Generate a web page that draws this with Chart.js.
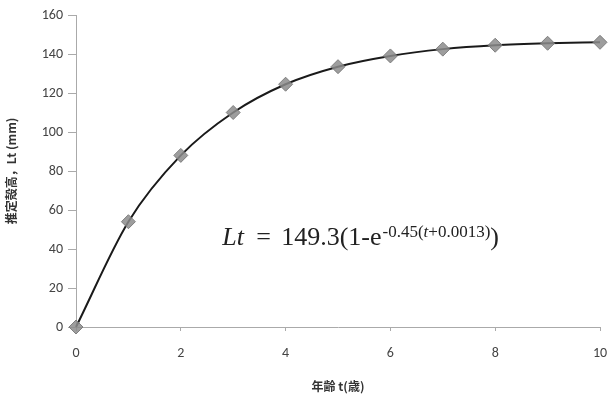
<!DOCTYPE html>
<html>
<head>
<meta charset="utf-8">
<script src="https://cdn.jsdelivr.net/npm/chart.js@4/dist/chart.umd.min.js"></script>
<style>
  html, body { margin: 0; padding: 0; background: #fff; }
  #wrap { width: 608px; height: 399px; }
</style>
</head>
<body>
<div id="wrap"><canvas id="grafico"></canvas></div>
<script>
// 年齢 (t) と 推定殻高 Lt (mm) — 図から読み取った値
const ages = [0, 1, 2, 3, 4, 5, 6, 7, 8, 9, 10];
const shellHeight = [0, 54, 88, 110, 124.5, 133.5, 139, 142.5, 144.5, 145.5, 146];
const xTicks = [0, 2, 4, 6, 8, 10];
const yTicks = [0, 20, 40, 60, 80, 100, 120, 140, 160];

const tickFont = { family: 'Calibri, Carlito, "Open Sans", sans-serif', size: 14 };
const titleFont = { family: '"Noto Sans CJK JP", sans-serif', size: 12, weight: 'bold' };

// 式の注記
const formulaPlugin = {
    id: 'formula',
    afterDraw(chart) {
        const c = chart.ctx;
        const x0 = chart.scales.x.getPixelForValue(2.79);
        const yb = chart.scales.y.getPixelForValue(42);
        const big = '26px "Liberation Serif", serif';
        const small = '17px "Liberation Serif", serif';
        c.save();
        c.fillStyle = '#222';
        c.textBaseline = 'alphabetic';
        c.textAlign = 'left';
        let x = x0;
        const put = (txt, font, y) => {
            c.font = font;
            c.fillText(txt, x, y);
            x += c.measureText(txt).width;
        };
        const sup = yb - 8;
        put('Lt', 'italic ' + big, yb);
        x = x0 + 34;
        put('=', big, yb);
        x = x0 + 59;
        put('149.3(1-e', big, yb);
        x += 1;
        put('-0.45(', small, sup);
        put('t', 'italic ' + small, sup);
        put('+0.0013)', small, sup);
        put(')', big, yb);
        c.restore();
    }
};

new Chart(document.getElementById('grafico'), {
    type: 'line',
    data: {
        labels: ages,
        datasets: [{
            data: ages.map((t, i) => ({ x: t, y: shellHeight[i] })),
            borderColor: '#1a1a1a',
            borderWidth: 2,
            cubicInterpolationMode: 'monotone',
            pointStyle: 'rectRot',
            pointRadius: 7,
            pointBackgroundColor: 'rgba(140,140,140,0.85)',
            pointBorderColor: 'rgba(120,120,120,0.9)',
            pointBorderWidth: 1,
            clip: false
        }]
    },
    options: {
        responsive: true,
        maintainAspectRatio: false,
        animation: false,
        layout: { padding: { top: 15, right: 8, bottom: 2, left: 0 } },
        plugins: { legend: { display: false }, tooltip: { enabled: false } },
        scales: {
            x: {
                type: 'linear',
                min: 0, max: 10,
                afterBuildTicks: s => { s.ticks = xTicks.map(v => ({ value: v })); },
                afterFit: s => { s.height = 70; s.paddingRight = 8; s.paddingLeft = 0; },
                ticks: { color: '#444', font: tickFont, padding: 14 },
                grid: { drawOnChartArea: false, tickLength: 4, color: '#aaa' },
                border: { color: '#aaa', width: 1 },
                title: { display: true, text: '年齢 t(歳)', color: '#333', font: titleFont, padding: { top: 0, bottom: 3 } }
            },
            y: {
                min: 0, max: 160,
                afterBuildTicks: s => { s.ticks = yTicks.map(v => ({ value: v })); },
                afterFit: s => { s.width = 76; },
                ticks: { color: '#444', font: tickFont, padding: 5 },
                grid: { drawOnChartArea: false, tickLength: 8, color: '#aaa' },
                border: { color: '#aaa', width: 1 },
                title: { display: true, text: '推定殻高，Lt (mm)', color: '#333', font: titleFont, padding: { top: 4, bottom: 0 } }
            }
        }
    },
    plugins: [formulaPlugin]
});
</script>
</body>
</html>
